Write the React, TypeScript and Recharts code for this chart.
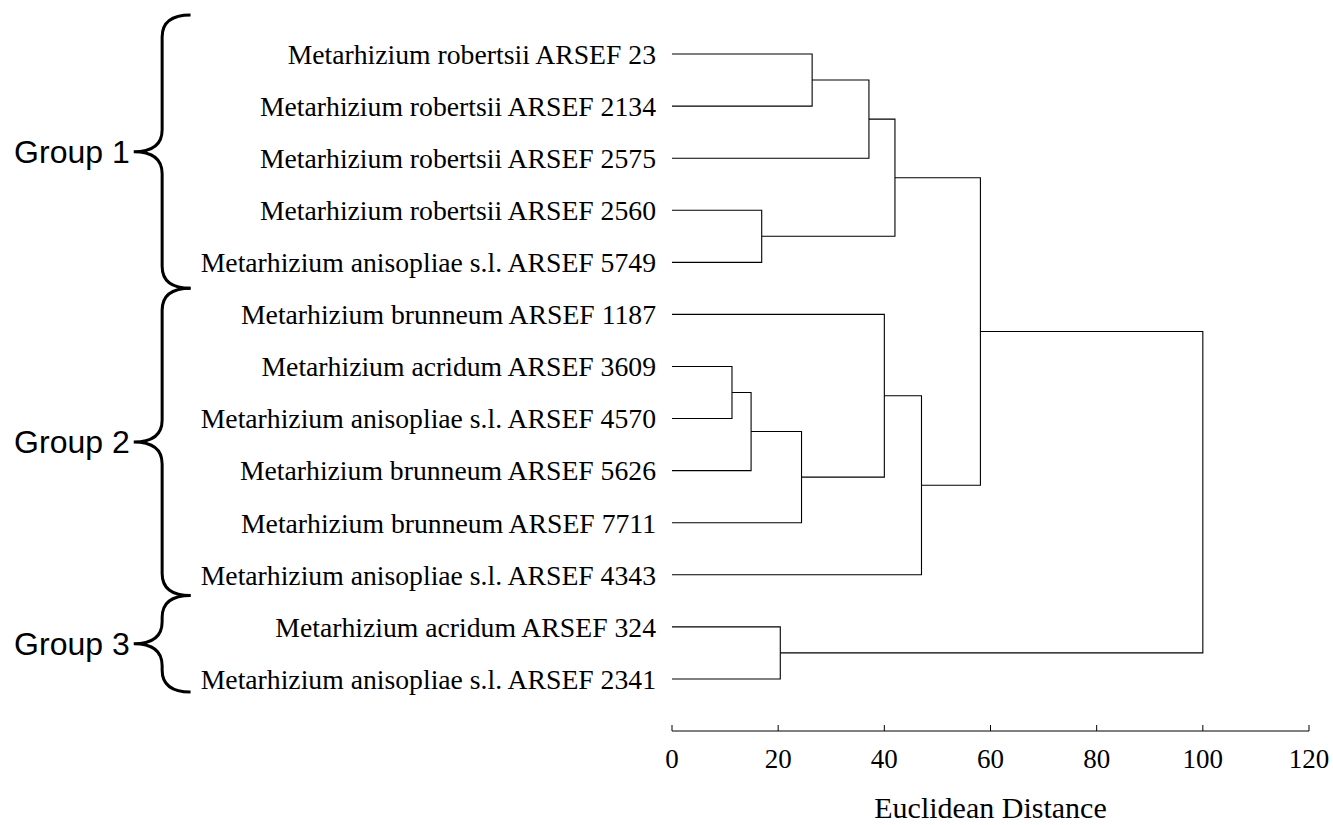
import React from "react";
import {
  ScatterChart,
  Scatter,
  XAxis,
  YAxis,
  ReferenceArea,
} from "recharts";

// leaf labels, top to bottom
const leafNames = [
  "Metarhizium robertsii ARSEF 23",
  "Metarhizium robertsii ARSEF 2134",
  "Metarhizium robertsii ARSEF 2575",
  "Metarhizium robertsii ARSEF 2560",
  "Metarhizium anisopliae s.l. ARSEF 5749",
  "Metarhizium brunneum ARSEF 1187",
  "Metarhizium acridum ARSEF 3609",
  "Metarhizium anisopliae s.l. ARSEF 4570",
  "Metarhizium brunneum ARSEF 5626",
  "Metarhizium brunneum ARSEF 7711",
  "Metarhizium anisopliae s.l. ARSEF 4343",
  "Metarhizium acridum ARSEF 324",
  "Metarhizium anisopliae s.l. ARSEF 2341",
];

// linkage: [child a, child b, distance]; ids 0-12 are leaves, 13+ are merges in order
const linkage: [number, number, number][] = [
  [6, 7, 11.3],
  [13, 8, 14.9],
  [3, 4, 16.9],
  [11, 12, 20.4],
  [14, 9, 24.4],
  [0, 1, 26.4],
  [18, 2, 37.1],
  [5, 17, 40.0],
  [19, 15, 42.0],
  [20, 10, 47.0],
  [21, 22, 58.1],
  [23, 16, 100],
];

// group braces: label, first and last position on the leaf axis
const groupNames = ["Group 1", "Group 2", "Group 3"];
const groupFrom = [-0.75, 4.5, 10.4];
const groupTo = [4.5, 10.4, 12.25];

const xTicks = [0, 20, 40, 60, 80, 100, 120];
const leafTicks = leafNames.map((_, i) => i);

const serif = "'Liberation Serif', 'Times New Roman', serif";
const sans = "'Liberation Sans', Arial, sans-serif";

// build the elbow segments of the dendrogram
const nodeY: number[] = leafNames.map((_, i) => i);
const nodeH: number[] = leafNames.map(() => 0);
const segments: { x: number; y: number }[][] = linkage.map(([a, b, h]) => {
  const seg = [
    { x: nodeH[a], y: nodeY[a] },
    { x: h, y: nodeY[a] },
    { x: h, y: nodeY[b] },
    { x: nodeH[b], y: nodeY[b] },
  ];
  nodeY.push((nodeY[a] + nodeY[b]) / 2);
  nodeH.push(h);
  return seg;
});

const NoDot = () => <g />;

const Brace = (label: string) => (props: any) => {
  const { x, y, width, height } = props;
  const xe = x + width;
  const xm = x + width * 0.5;
  const ym = y + height / 2;
  const r = Math.min(22, height / 4);
  const d = [
    `M ${xe} ${y}`,
    `Q ${xm} ${y} ${xm} ${y + r}`,
    `L ${xm} ${ym - r}`,
    `Q ${xm} ${ym} ${x} ${ym}`,
    `Q ${xm} ${ym} ${xm} ${ym + r}`,
    `L ${xm} ${y + height - r}`,
    `Q ${xm} ${y + height} ${xe} ${y + height}`,
  ].join(" ");
  return (
    <g>
      <path d={d} fill="none" stroke="#000" strokeWidth={3} />
      <text
        x={x - 4}
        y={ym}
        textAnchor="end"
        dominantBaseline="central"
        fontFamily={sans}
        fontSize={32}
        fill="#000"
      >
        {label}
      </text>
    </g>
  );
};

export default function App() {
  return (
    <div style={{ position: "absolute", left: 0, top: 0 }}>
      <ScatterChart
        width={1333}
        height={825}
        margin={{ top: 28, right: 24, bottom: 0, left: 0 }}
      >
        <XAxis
          type="number"
          dataKey="x"
          domain={[0, 120]}
          ticks={xTicks}
          allowDataOverflow
          stroke="#000"
          tickSize={-6}
          tickMargin={24}
          height={94}
          tick={{ fill: "#000", fontSize: 27, fontFamily: serif }}
          label={{
            value: "Euclidean Distance",
            position: "insideBottom",
            offset: 7,
            fill: "#000",
            fontSize: 30,
            fontFamily: serif,
          }}
        />
        <YAxis
          type="number"
          dataKey="y"
          domain={[-0.5, 13]}
          reversed
          allowDataOverflow
          ticks={leafTicks}
          interval={0}
          width={672}
          axisLine={false}
          tickLine={false}
          tickSize={6}
          tickMargin={10}
          tickFormatter={(i: number) => leafNames[i] ?? ""}
          tick={{ fill: "#000", fontSize: 27.7, fontFamily: serif }}
        />
        {segments.map((seg, i) => (
          <Scatter
            key={i}
            data={seg}
            line={{ stroke: "#000", strokeWidth: 1.1 }}
            shape={NoDot}
            isAnimationActive={false}
          />
        ))}
        {groupNames.map((g, i) => (
          <ReferenceArea
            key={g}
            x1={-101.4}
            x2={-90.7}
            y1={groupFrom[i]}
            y2={groupTo[i]}
            ifOverflow="visible"
            shape={Brace(g)}
          />
        ))}
      </ScatterChart>
    </div>
  );
}
